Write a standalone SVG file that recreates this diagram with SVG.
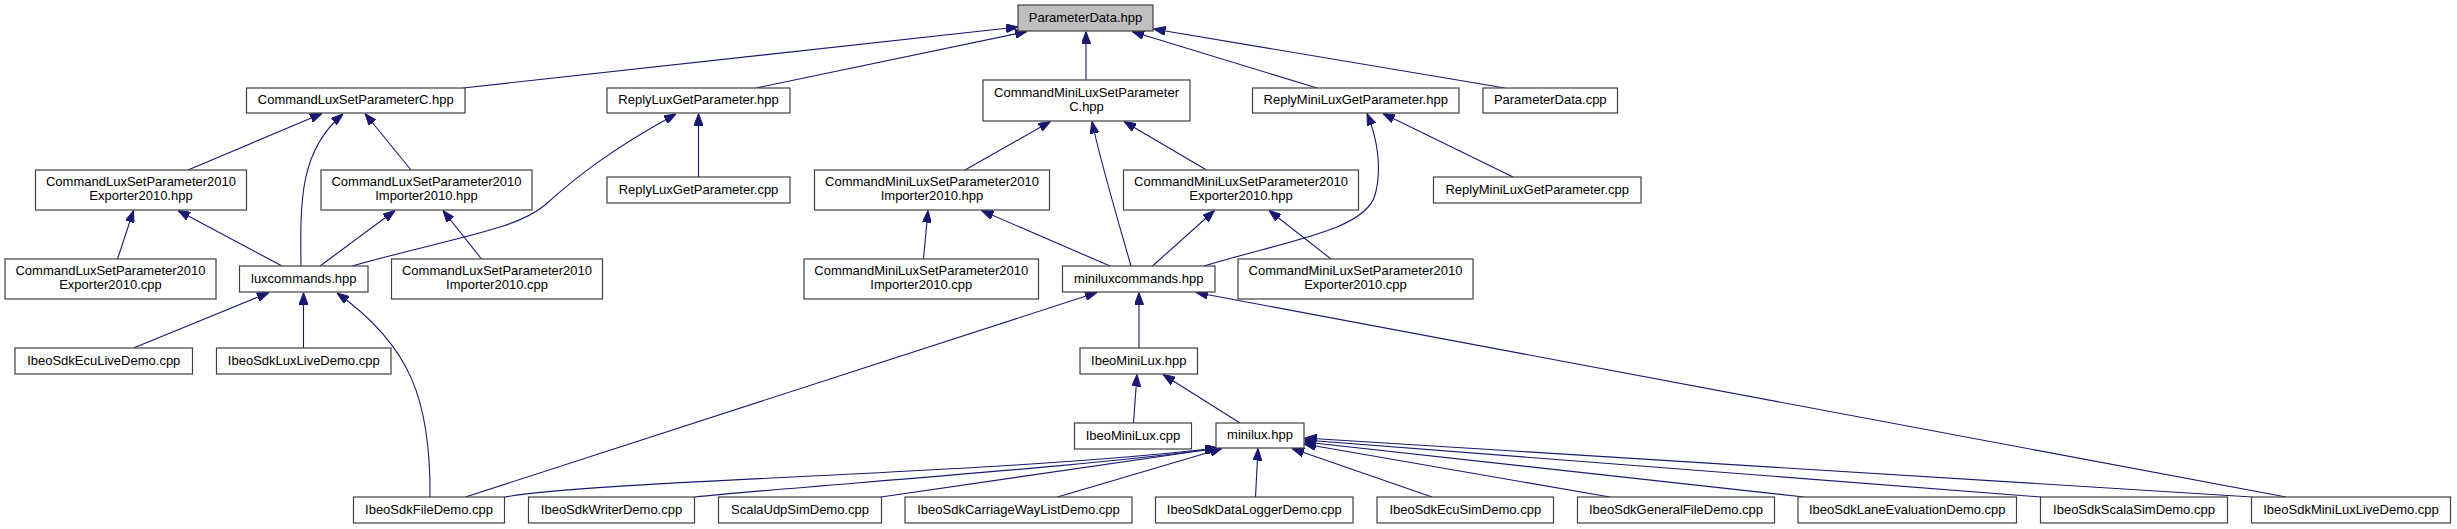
<svg xmlns="http://www.w3.org/2000/svg" width="2457" height="529" viewBox="0 0 2457 529">
<style>
.n rect{fill:#ffffff;stroke:#404040;stroke-width:1.2}
.n.root rect{fill:#bfbfbf}
.n text{font-family:"Liberation Sans",Arial,Helvetica,sans-serif;font-size:13px;fill:#000;text-anchor:middle}
.e path{fill:none;stroke:#191970;stroke-width:1.1;marker-end:url(#ah)}
</style>
<defs>
<marker id="ah" markerWidth="12" markerHeight="9" refX="12" refY="4.5" orient="auto" markerUnits="userSpaceOnUse">
<path d="M0,0 L12,4.5 L0,9 z" fill="#191970" stroke="#191970" stroke-width="1"/>
</marker>
</defs>
<rect width="2457" height="529" fill="#ffffff"/>
<g id="edges" class="e">
<path d="M463,88 L1018,27"/>
<path d="M756,88 L1027,31.5"/>
<path d="M1086,80 L1086,31.5"/>
<path d="M1317,88 L1132,31.5"/>
<path d="M1505,88 L1153.5,29"/>
<path d="M188,170 L322,113.5"/>
<path d="M301,266 C300,200 300,150 343,114"/>
<path d="M411,170 L365,113.5"/>
<path d="M698.5,177 L698.5,113.5"/>
<path d="M352,266 C460,236 515,230 545,205 C575,178 610,150 676,114"/>
<path d="M117.5,259 L133.5,210.5"/>
<path d="M282,266 L178,210.5"/>
<path d="M320,266 L395,210.5"/>
<path d="M481.5,259 L443,210.5"/>
<path d="M133.5,348 L269,292.5"/>
<path d="M303.5,348 L303.5,292.5"/>
<path d="M430,497 C431,400 410,345 337,293"/>
<path d="M965,170 L1050.5,121.5"/>
<path d="M1131,266 C1115,210 1100,160 1092,121.5"/>
<path d="M1206.5,170 L1124,121.5"/>
<path d="M1513,177 L1383,113.5"/>
<path d="M1204,266 C1290,240 1365,230 1375,195 C1382,170 1378,140 1367,113.5"/>
<path d="M923.5,259 L928,210.5"/>
<path d="M1110,266 L981.5,210.5"/>
<path d="M1152.5,266 L1214.5,210.5"/>
<path d="M1331,259 L1269,210.5"/>
<path d="M465.5,497 L1097,292.5"/>
<path d="M1139,348 L1139,292.5"/>
<path d="M2286,497 L1196,292.5"/>
<path d="M1133.5,423 L1137,374.5"/>
<path d="M1240,423 L1163,374.5"/>
<path d="M505,497 C600,480 1000,474 1217,448"/>
<path d="M694.5,497 C800,486 1100,466 1218,448"/>
<path d="M881,497 L1219,448"/>
<path d="M1057.5,497 L1222,448.5"/>
<path d="M1255.5,497 L1258,448.5"/>
<path d="M1432,497 L1292,448.5"/>
<path d="M1610,497 L1304,444"/>
<path d="M1804,497 L1304.5,442"/>
<path d="M2041,497 L1304.5,440"/>
<path d="M2252,497 L1304.5,438"/>
</g>
<g id="n_ParameterData_hpp" class="n root"><rect x="1018" y="5" width="135" height="26"/><text x="1085.5" y="21.5">ParameterData.hpp</text></g>
<g id="n_CommandLuxSetParameterC_hpp" class="n"><rect x="246.5" y="88" width="218.5" height="25"/><text x="355.75" y="104">CommandLuxSetParameterC.hpp</text></g>
<g id="n_ReplyLuxGetParameter_hpp" class="n"><rect x="607" y="88" width="183" height="25"/><text x="698.5" y="104">ReplyLuxGetParameter.hpp</text></g>
<g id="n_CommandMiniLuxSetParameterC_hpp" class="n"><rect x="983" y="80" width="207" height="41"/><text x="1086.5" y="96.5">CommandMiniLuxSetParameter</text><text x="1086.5" y="111">C.hpp</text></g>
<g id="n_ReplyMiniLuxGetParameter_hpp" class="n"><rect x="1252.5" y="88" width="206.5" height="25"/><text x="1355.75" y="104">ReplyMiniLuxGetParameter.hpp</text></g>
<g id="n_ParameterData_cpp" class="n"><rect x="1483" y="88" width="134.5" height="25"/><text x="1550.25" y="104">ParameterData.cpp</text></g>
<g id="n_CLSP_Exporter_hpp" class="n"><rect x="35.5" y="170" width="211" height="40"/><text x="141" y="186">CommandLuxSetParameter2010</text><text x="141" y="200">Exporter2010.hpp</text></g>
<g id="n_CLSP_Importer_hpp" class="n"><rect x="321" y="170" width="211" height="40"/><text x="426.5" y="186">CommandLuxSetParameter2010</text><text x="426.5" y="200">Importer2010.hpp</text></g>
<g id="n_ReplyLuxGetParameter_cpp" class="n"><rect x="607" y="177" width="183" height="26"/><text x="698.5" y="193.5">ReplyLuxGetParameter.cpp</text></g>
<g id="n_CMLSP_Importer_hpp" class="n"><rect x="814.5" y="170" width="235" height="40"/><text x="932" y="186">CommandMiniLuxSetParameter2010</text><text x="932" y="200">Importer2010.hpp</text></g>
<g id="n_CMLSP_Exporter_hpp" class="n"><rect x="1123.5" y="170" width="235" height="40"/><text x="1241" y="186">CommandMiniLuxSetParameter2010</text><text x="1241" y="200">Exporter2010.hpp</text></g>
<g id="n_ReplyMiniLuxGetParameter_cpp" class="n"><rect x="1433.5" y="177" width="207.5" height="26"/><text x="1537.25" y="193.5">ReplyMiniLuxGetParameter.cpp</text></g>
<g id="n_CLSP_Exporter_cpp" class="n"><rect x="5" y="259" width="211" height="40"/><text x="110.5" y="275">CommandLuxSetParameter2010</text><text x="110.5" y="289">Exporter2010.cpp</text></g>
<g id="n_luxcommands_hpp" class="n"><rect x="239.5" y="266" width="128.5" height="26"/><text x="303.75" y="282.5">luxcommands.hpp</text></g>
<g id="n_CLSP_Importer_cpp" class="n"><rect x="391.5" y="259" width="211" height="40"/><text x="497" y="275">CommandLuxSetParameter2010</text><text x="497" y="289">Importer2010.cpp</text></g>
<g id="n_CMLSP_Importer_cpp" class="n"><rect x="804" y="259" width="234.5" height="40"/><text x="921.25" y="275">CommandMiniLuxSetParameter2010</text><text x="921.25" y="289">Importer2010.cpp</text></g>
<g id="n_miniluxcommands_hpp" class="n"><rect x="1062.5" y="266" width="152.5" height="26"/><text x="1138.75" y="282.5">miniluxcommands.hpp</text></g>
<g id="n_CMLSP_Exporter_cpp" class="n"><rect x="1238" y="259" width="235" height="40"/><text x="1355.5" y="275">CommandMiniLuxSetParameter2010</text><text x="1355.5" y="289">Exporter2010.cpp</text></g>
<g id="n_IbeoSdkEcuLiveDemo_cpp" class="n"><rect x="15" y="348" width="177.5" height="26"/><text x="103.75" y="364.5">IbeoSdkEcuLiveDemo.cpp</text></g>
<g id="n_IbeoSdkLuxLiveDemo_cpp" class="n"><rect x="216.5" y="348" width="174.5" height="26"/><text x="303.75" y="364.5">IbeoSdkLuxLiveDemo.cpp</text></g>
<g id="n_IbeoMiniLux_hpp" class="n"><rect x="1080" y="348" width="117.5" height="26"/><text x="1138.75" y="364.5">IbeoMiniLux.hpp</text></g>
<g id="n_IbeoMiniLux_cpp" class="n"><rect x="1074.5" y="423" width="117" height="26"/><text x="1133" y="439.5">IbeoMiniLux.cpp</text></g>
<g id="n_minilux_hpp" class="n"><rect x="1216" y="423" width="88" height="25"/><text x="1260" y="439">minilux.hpp</text></g>
<g id="n_IbeoSdkFileDemo_cpp" class="n"><rect x="353.5" y="497" width="151" height="26"/><text x="429" y="513.5">IbeoSdkFileDemo.cpp</text></g>
<g id="n_IbeoSdkWriterDemo_cpp" class="n"><rect x="528.5" y="497" width="166" height="26"/><text x="611.5" y="513.5">IbeoSdkWriterDemo.cpp</text></g>
<g id="n_ScalaUdpSimDemo_cpp" class="n"><rect x="718.5" y="497" width="163" height="26"/><text x="800" y="513.5">ScalaUdpSimDemo.cpp</text></g>
<g id="n_IbeoSdkCarriageWayListDemo_cpp" class="n"><rect x="905" y="497" width="227" height="26"/><text x="1018.5" y="513.5">IbeoSdkCarriageWayListDemo.cpp</text></g>
<g id="n_IbeoSdkDataLoggerDemo_cpp" class="n"><rect x="1155.5" y="497" width="197.5" height="26"/><text x="1254.25" y="513.5">IbeoSdkDataLoggerDemo.cpp</text></g>
<g id="n_IbeoSdkEcuSimDemo_cpp" class="n"><rect x="1377" y="497" width="176.5" height="26"/><text x="1465.25" y="513.5">IbeoSdkEcuSimDemo.cpp</text></g>
<g id="n_IbeoSdkGeneralFileDemo_cpp" class="n"><rect x="1577.5" y="497" width="197" height="26"/><text x="1676" y="513.5">IbeoSdkGeneralFileDemo.cpp</text></g>
<g id="n_IbeoSdkLaneEvaluationDemo_cpp" class="n"><rect x="1798" y="497" width="218.5" height="26"/><text x="1907.25" y="513.5">IbeoSdkLaneEvaluationDemo.cpp</text></g>
<g id="n_IbeoSdkScalaSimDemo_cpp" class="n"><rect x="2040.5" y="497" width="187" height="26"/><text x="2134" y="513.5">IbeoSdkScalaSimDemo.cpp</text></g>
<g id="n_IbeoSdkMiniLuxLiveDemo_cpp" class="n"><rect x="2251.5" y="497" width="199" height="26"/><text x="2351" y="513.5">IbeoSdkMiniLuxLiveDemo.cpp</text></g>
</svg>
